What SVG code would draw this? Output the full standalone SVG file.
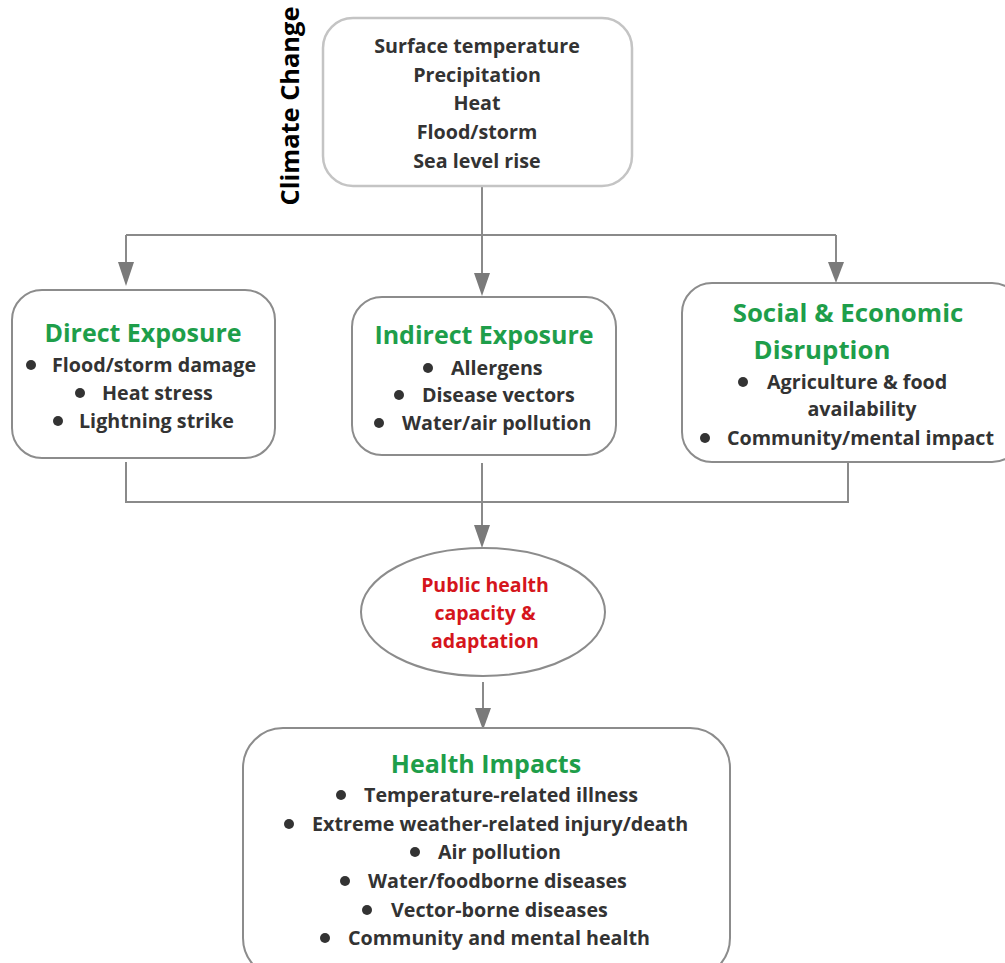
<svg xmlns="http://www.w3.org/2000/svg" width="1005" height="963" viewBox="0 0 1005 963">
<defs>
<style>
.box{fill:#fff;stroke:#8c8c8c;stroke-width:2}
.top{fill:#fff;stroke:#c4c4c4;stroke-width:2.5}
.t{font-family:"Open Sans","Noto Sans",sans-serif;font-weight:bold;font-size:19.7px;fill:#333}
.h{font-family:"Open Sans","Noto Sans",sans-serif;font-weight:bold;font-size:25px;fill:#1e9e4a}
.r{font-family:"Open Sans","Noto Sans",sans-serif;font-weight:bold;font-size:19.5px;fill:#d5151c}
.c{fill:none;stroke:#8a8a8a;stroke-width:2}
.a{fill:#7a7a7a}
.b{fill:#333}
</style>
</defs>
<g id="connectors">
<path class="c" d="M482,186 V280"/>
<path class="c" d="M126,235 H836"/>
<path class="c" d="M126,235 V270"/>
<path class="c" d="M836,235 V270"/>
<polygon class="a" points="118,262 134,262 126,286"/>
<polygon class="a" points="474,273 490,273 482,296"/>
<polygon class="a" points="828,262 844,262 836,283"/>
<path class="c" d="M126,462 V502 H848 V462"/>
<path class="c" d="M482,463 V530"/>
<polygon class="a" points="474,525 490,525 482,548"/>
<path class="c" d="M483,682 V712"/>
<polygon class="a" points="475,708 491,708 483,730"/>
</g>
<g id="climate-label">
<text transform="translate(299,106) rotate(-90)" text-anchor="middle" style="font-family:'Open Sans','Noto Sans',sans-serif;font-weight:bold;font-size:25.4px;fill:#000">Climate Change</text>
</g>
<g id="climate">
<rect class="top" x="323" y="18" width="309" height="168" rx="30"/>
<text class="t" text-anchor="middle" x="477" y="53">Surface temperature</text>
<text class="t" text-anchor="middle" x="477" y="82">Precipitation</text>
<text class="t" text-anchor="middle" x="477" y="110">Heat</text>
<text class="t" text-anchor="middle" x="477" y="139">Flood/storm</text>
<text class="t" text-anchor="middle" x="477" y="168">Sea level rise</text>
</g>
<g id="direct">
<rect class="box" x="12" y="290" width="263" height="168" rx="30"/>
<text class="h" text-anchor="middle" x="143" y="342">Direct Exposure</text>
<circle class="b" cx="31" cy="365" r="5"/><text class="t" x="52" y="372">Flood/storm damage</text>
<circle class="b" cx="80" cy="393" r="5"/><text class="t" x="102" y="400">Heat stress</text>
<circle class="b" cx="58" cy="421" r="5"/><text class="t" x="79" y="428">Lightning strike</text>
</g>
<g id="indirect">
<rect class="box" x="352" y="297" width="264" height="158" rx="30"/>
<text class="h" text-anchor="middle" x="484" y="344">Indirect Exposure</text>
<circle class="b" cx="428" cy="368" r="5"/><text class="t" x="451" y="375">Allergens</text>
<circle class="b" cx="399" cy="395" r="5"/><text class="t" x="422" y="402">Disease vectors</text>
<circle class="b" cx="379" cy="423" r="5"/><text class="t" x="402" y="430">Water/air pollution</text>
</g>
<g id="social">
<rect class="box" x="682" y="283" width="340" height="179" rx="30"/>
<text class="h" text-anchor="middle" x="848" y="322" style="font-size:25.8px">Social &amp; Economic</text>
<text class="h" text-anchor="middle" x="822" y="359" style="font-size:25.8px">Disruption</text>
<circle class="b" cx="743" cy="382" r="5"/><text class="t" x="767" y="389">Agriculture &amp; food</text>
<text class="t" text-anchor="middle" x="862" y="416">availability</text>
<circle class="b" cx="705" cy="438" r="5"/><text class="t" x="727" y="445">Community/mental impact</text>
</g>
<g id="capacity">
<ellipse class="box" cx="483" cy="612" rx="122" ry="64"/>
<text class="r" text-anchor="middle" x="485" y="592">Public health</text>
<text class="r" text-anchor="middle" x="485" y="620">capacity &amp;</text>
<text class="r" text-anchor="middle" x="485" y="648">adaptation</text>
</g>
<g id="health">
<rect class="box" x="243" y="728" width="487" height="250" rx="40"/>
<text class="h" text-anchor="middle" x="486" y="773">Health Impacts</text>
<circle class="b" cx="341" cy="795" r="5"/><text class="t" x="364" y="802">Temperature-related illness</text>
<circle class="b" cx="289" cy="824" r="5"/><text class="t" x="312" y="831">Extreme weather-related injury/death</text>
<circle class="b" cx="415" cy="852" r="5"/><text class="t" x="438" y="859">Air pollution</text>
<circle class="b" cx="345" cy="881" r="5"/><text class="t" x="368" y="888">Water/foodborne diseases</text>
<circle class="b" cx="367" cy="910" r="5"/><text class="t" x="391" y="917">Vector-borne diseases</text>
<circle class="b" cx="325" cy="938" r="5"/><text class="t" x="348" y="945">Community and mental health</text>
</g>
</svg>
